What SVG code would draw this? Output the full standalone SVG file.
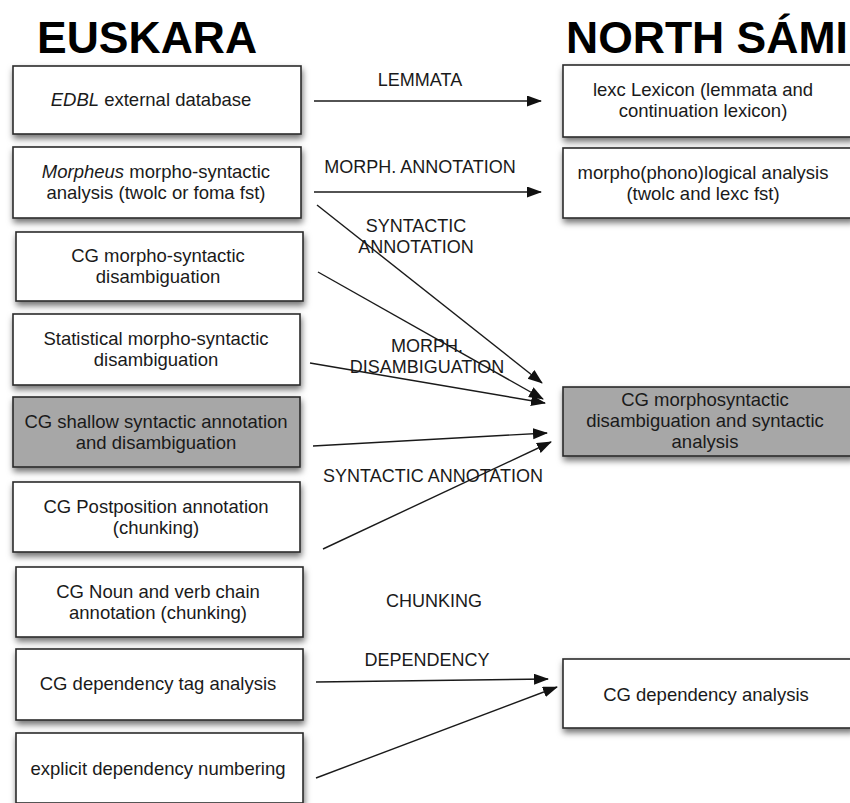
<svg xmlns="http://www.w3.org/2000/svg" width="850" height="803" viewBox="0 0 850 803">
<defs>
<filter id="sh" x="-10%" y="-20%" width="125%" height="160%">
<feDropShadow dx="1" dy="4" stdDeviation="3" flood-color="#000" flood-opacity="0.55"/>
</filter>
<marker id="ah" markerUnits="userSpaceOnUse" markerWidth="16" markerHeight="12" refX="14" refY="5.5" orient="auto">
<path d="M0,0 L15,5.5 L0,11 z" fill="#111"/>
</marker>
<style>
.box{fill:#fff;stroke:#2a2a2a;stroke-width:1.6;filter:url(#sh)}
.gray{fill:#a7a7a7}
.t{font-family:"Liberation Sans",Arial,sans-serif;font-size:18.5px;fill:#1a1a1a;text-anchor:middle}
.lbl{font-family:"Liberation Sans",Arial,sans-serif;font-size:18px;fill:#1a1a1a;text-anchor:middle}
.title{font-family:"Liberation Sans",Arial,sans-serif;font-size:44.5px;font-weight:bold;fill:#000}
.c{stroke:#1a1a1a;stroke-width:1.4;fill:none;marker-end:url(#ah)}
</style>
</defs>
<rect width="850" height="803" fill="#fff"/>
<text class="title" x="37" y="53">EUSKARA</text>
<text class="title" x="566" y="53">NORTH SÁMI</text>

<g id="edbl"><rect class="box" x="13" y="66" width="288" height="68"/><text class="t" x="151" y="106"><tspan font-style="italic">EDBL</tspan> external database</text></g>
<g id="morpheus"><rect class="box" x="13" y="147" width="288" height="71"/><text class="t" x="156" y="178"><tspan font-style="italic">Morpheus</tspan> morpho-syntactic</text><text class="t" x="156" y="199">analysis (twolc or foma fst)</text></g>
<g id="cgdisamb"><rect class="box" x="16" y="232" width="287" height="69"/><text class="t" x="158" y="262">CG morpho-syntactic</text><text class="t" x="158" y="283">disambiguation</text></g>
<g id="stat"><rect class="box" x="13" y="314" width="287" height="71"/><text class="t" x="156" y="345">Statistical morpho-syntactic</text><text class="t" x="156" y="366">disambiguation</text></g>
<g id="shallow"><rect class="box gray" x="13" y="397" width="287" height="70"/><text class="t" x="156" y="428">CG shallow syntactic annotation</text><text class="t" x="156" y="449">and disambiguation</text></g>
<g id="postpos"><rect class="box" x="13" y="482" width="287" height="70"/><text class="t" x="156" y="513">CG Postposition annotation</text><text class="t" x="156" y="534">(chunking)</text></g>
<g id="chain"><rect class="box" x="16" y="567" width="287" height="70"/><text class="t" x="158" y="597.5">CG Noun and verb chain</text><text class="t" x="158" y="618.5">annotation (chunking)</text></g>
<g id="deptag"><rect class="box" x="16" y="649" width="287" height="71"/><text class="t" x="158" y="690">CG dependency tag analysis</text></g>
<g id="explicit"><rect class="box" x="16" y="733" width="287" height="70"/><text class="t" x="158" y="775">explicit dependency numbering</text></g>

<g id="lexc"><rect class="box" x="563" y="65" width="290" height="72"/><text class="t" x="703" y="96">lexc Lexicon (lemmata and</text><text class="t" x="703" y="117">continuation lexicon)</text></g>
<g id="morphan"><rect class="box" x="563" y="148" width="290" height="70"/><text class="t" x="703" y="178.5">morpho(phono)logical analysis</text><text class="t" x="703" y="199.5">(twolc and lexc fst)</text></g>
<g id="cgmorph"><rect class="box gray" x="563" y="387" width="290" height="69"/><text class="t" x="705" y="406">CG morphosyntactic</text><text class="t" x="705" y="427">disambiguation and syntactic</text><text class="t" x="705" y="448">analysis</text></g>
<g id="cgdep"><rect class="box" x="563" y="659" width="290" height="69"/><text class="t" x="706" y="701">CG dependency analysis</text></g>

<g id="connectors">
<line class="c" x1="314" y1="101" x2="541" y2="101"/>
<line class="c" x1="314" y1="192" x2="541" y2="192"/>
<line class="c" x1="317" y1="205" x2="542" y2="383"/>
<line class="c" x1="318" y1="272" x2="543" y2="399"/>
<line class="c" x1="310" y1="363" x2="545" y2="403"/>
<line class="c" x1="313" y1="446" x2="547" y2="433"/>
<line class="c" x1="323" y1="549" x2="551" y2="442"/>
<line class="c" x1="316" y1="682" x2="548" y2="679"/>
<line class="c" x1="316" y1="778" x2="557" y2="687"/>
<text class="lbl" x="420" y="86">LEMMATA</text>
<text class="lbl" x="420" y="173">MORPH. ANNOTATION</text>
<text class="lbl" x="416" y="232">SYNTACTIC</text>
<text class="lbl" x="416" y="253">ANNOTATION</text>
<text class="lbl" x="427" y="352">MORPH.</text>
<text class="lbl" x="427" y="373">DISAMBIGUATION</text>
<text class="lbl" x="433" y="482">SYNTACTIC ANNOTATION</text>
<text class="lbl" x="434" y="607">CHUNKING</text>
<text class="lbl" x="427" y="666">DEPENDENCY</text>
</g>
</svg>
